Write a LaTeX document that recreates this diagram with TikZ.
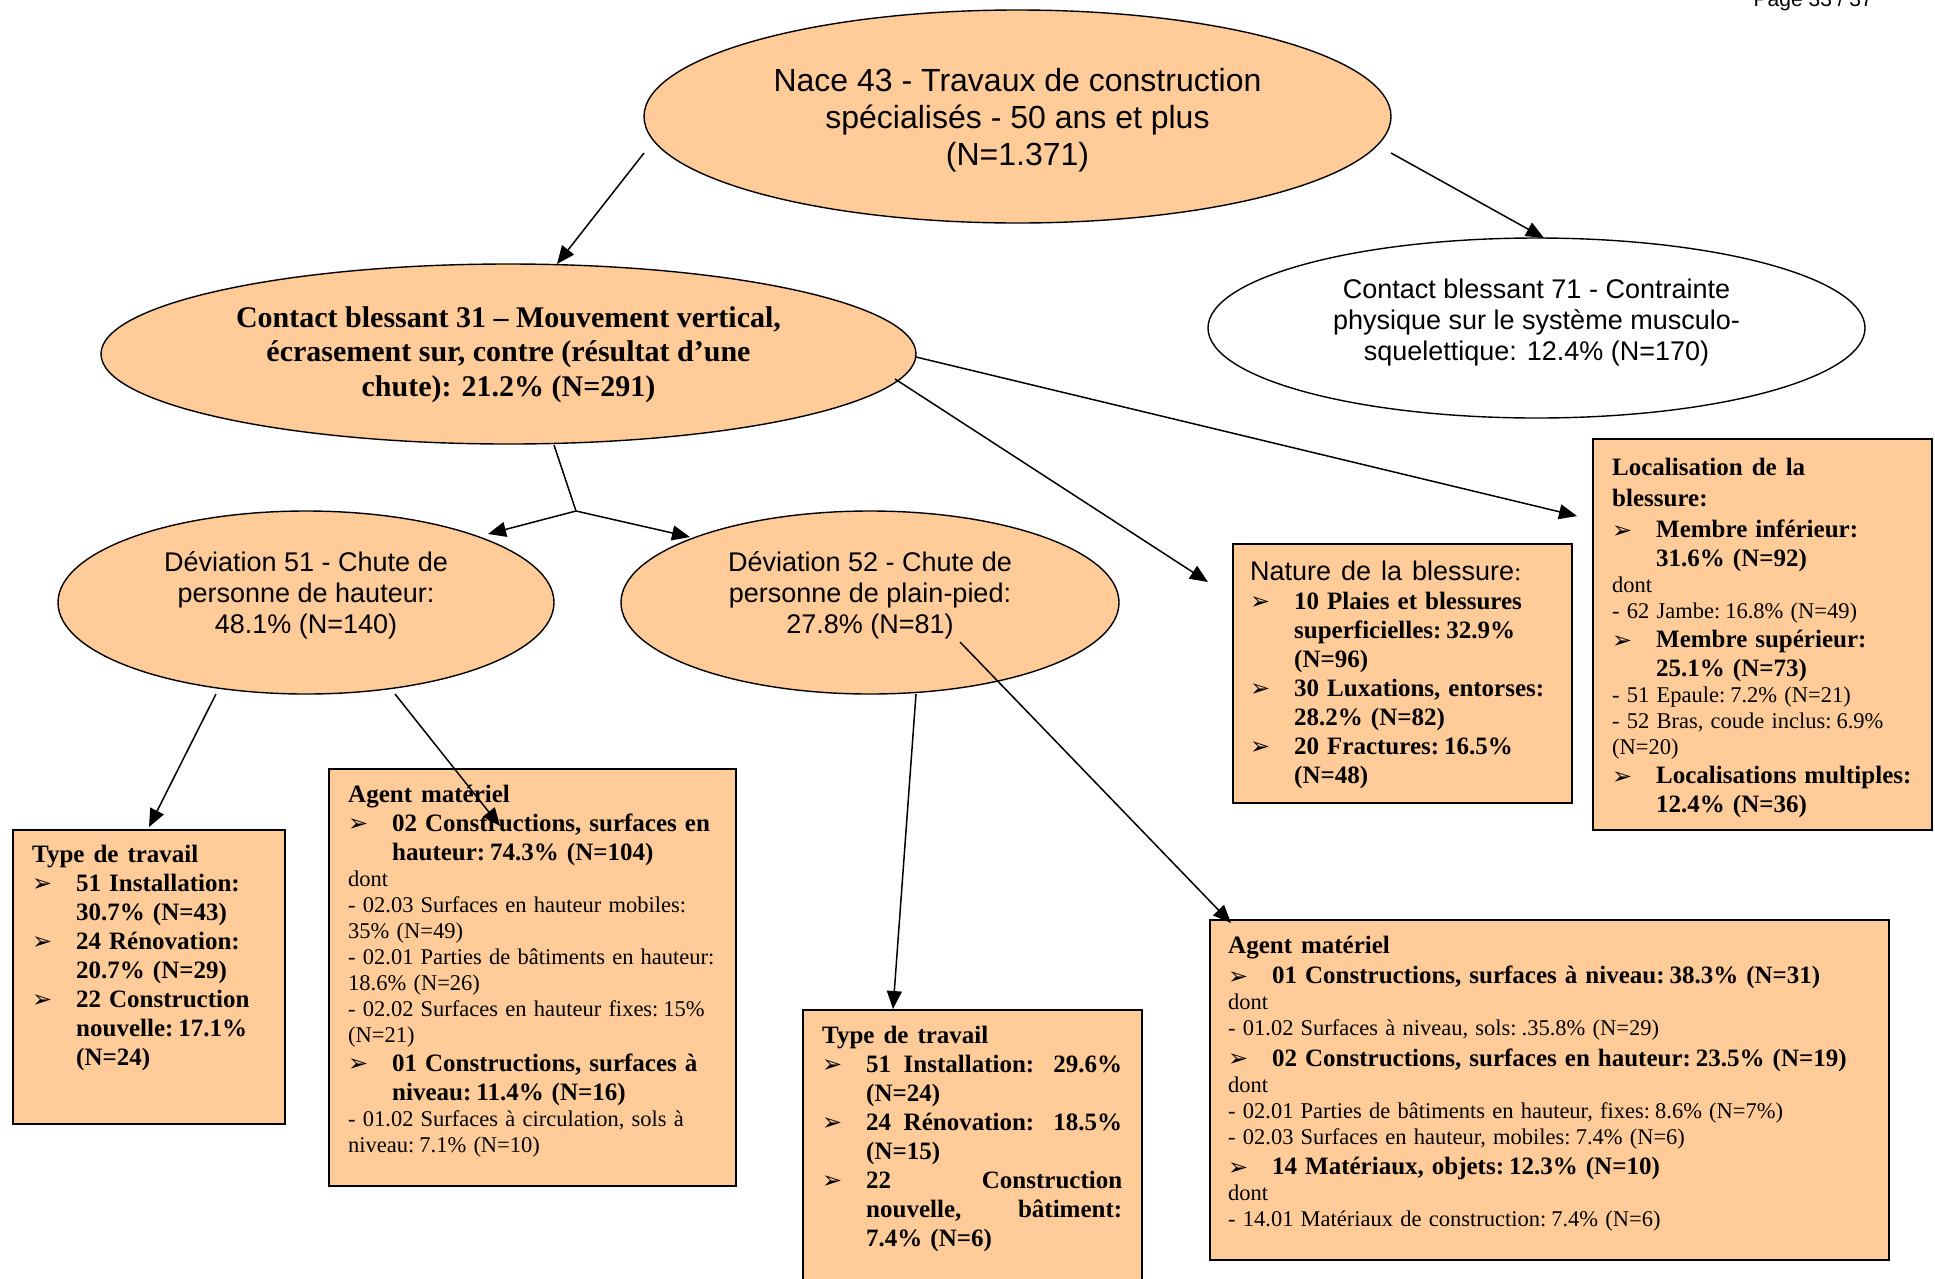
\documentclass[tikz,border=0pt]{standalone}
\usepackage{fontspec}
\setmainfont{Liberation Serif}
\newfontfamily\arialf{Liberation Sans}
\newfontfamily\dejavuf{DejaVu Sans}
\usetikzlibrary{arrows.meta,calc,shapes.geometric}
\definecolor{peach}{RGB}{255,204,153}
\newlength\bskip \setlength\bskip{29pt}
\newlength\tskip \setlength\tskip{29pt}
\newcommand\bul{{\dejavuf\fontsize{24}{24}\selectfont ➢}}
\newcommand\bitem[1]{\par{\bfseries\fontsize{25}{\bskip}\selectfont\spaceskip=0.32em plus 0.3em minus 0.05em\noindent\hangindent=44pt\hangafter=1\relax\makebox[44pt][l]{\raisebox{-0.5pt}{\bul}}#1\par}}
\newcommand\rline[1]{\par{\fontsize{22.5}{26}\selectfont\spaceskip=0.32em plus 0.3em minus 0.05em\noindent #1\par}}
\newcommand\btitle[1]{\par{\bfseries\fontsize{25}{\tskip}\selectfont\spaceskip=0.36em plus 0.3em minus 0.05em\noindent\rule{0pt}{22pt}#1\par}}
\newcommand\ntitle[1]{\par{\arialf\fontsize{27}{31}\selectfont\spaceskip=0.37em plus 0.2em minus 0.05em\noindent\rule{0pt}{22pt}#1\par}}
\begin{document}
\begin{tikzpicture}[x=1pt,y=-1pt,
  ell/.style={ellipse, draw=black, line width=1.4pt, fill=peach, inner sep=0pt},
  etxt/.style={align=center, inner sep=0pt},
  boxs/.style={rectangle, draw=black, line width=1.8pt, fill=peach, anchor=north west, inner sep=0pt},
  txt/.style={anchor=north west, inner sep=0pt},
  arr/.style={-{Triangle[length=18pt,width=15pt]}, line width=1.5pt},
  lin/.style={line width=1.5pt}]

\useasboundingbox (0,0) rectangle (1935,1278);
\fill[white] (0,0) rectangle (1935,1278);

\node[anchor=base east, inner sep=0pt, font=\arialf\fontsize{21}{25}\selectfont] (pg) at (1873,6) {Page 33 / 37};

% ellipses
\node[ell, minimum width=747pt, minimum height=213pt] (nace) at (1017.5,116.5) {};
\node[etxt, font=\arialf\fontsize{32}{37}\selectfont] (nacet) at (1017.5,120.5) {Nace 43 - Travaux de construction\\spécialisés - 50 ans et plus\\(N=1.371)};

\node[ell, minimum width=815pt, minimum height=180pt] (c31) at (508.5,354) {};
\node[etxt, font=\bfseries\fontsize{30}{34.5}\selectfont] (c31t) at (508.5,354.5) {Contact blessant 31 – Mouvement vertical,\\écrasement sur, contre (résultat d'une\\chute): 21.2\% (N=291)};

\node[ell, fill=white, minimum width=657pt, minimum height=180pt] (c71) at (1536.5,328) {};
\node[etxt, font=\arialf\fontsize{27}{31}\selectfont] (c71t) at (1536.5,322.5) {Contact blessant 71 - Contrainte\\physique sur le système musculo-\\squelettique: 12.4\% (N=170)};

\node[ell, minimum width=496pt, minimum height=183pt] (d51) at (306,602.5) {};
\node[etxt, font=\arialf\fontsize{27}{31}\selectfont] (d51t) at (306,595.5) {Déviation 51 - Chute de\\personne de hauteur:\\48.1\% (N=140)};

\node[ell, minimum width=498pt, minimum height=183pt] (d52) at (870,602.5) {};
\node[etxt, font=\arialf\fontsize{27}{31}\selectfont] (d52t) at (870,595.5) {Déviation 52 - Chute de\\personne de plain-pied:\\27.8\% (N=81)};

% boxes
\node[boxs, minimum width=272pt, minimum height=294pt] (tt1) at (12,829) {};
\node[boxs, minimum width=407pt, minimum height=417pt] (am1) at (328,768) {};
\node[boxs, minimum width=339pt, minimum height=290pt] (tt2) at (802,1009) {};
\node[boxs, minimum width=679pt, minimum height=340pt] (am2) at (1209,919) {};
\node[boxs, minimum width=339pt, minimum height=259pt] (nat) at (1232,543) {};
\node[boxs, minimum width=339pt, minimum height=391pt] (loc) at (1592,438) {};

% box texts
\node[txt, text width=248pt] (tt1t) at (32,833) {\btitle{Type de travail}%
\bitem{51 Installation:\newline 30.7\% (N=43)}%
\bitem{24 Rénovation:\newline 20.7\% (N=29)}%
\bitem{22 Construction\newline nouvelle: 17.1\%\newline (N=24)}};

\node[txt, text width=384pt] (am1t) at (348,773) {\btitle{Agent matériel}%
\bitem{02 Constructions, surfaces en\newline hauteur: 74.3\% (N=104)}%
\rline{dont}%
\rline{- 02.03 Surfaces en hauteur mobiles:\newline 35\% (N=49)}%
\rline{- 02.01 Parties de bâtiments en hauteur:\newline 18.6\% (N=26)}%
\rline{- 02.02 Surfaces en hauteur fixes: 15\%\newline (N=21)}%
\bitem{01 Constructions, surfaces à\newline niveau: 11.4\% (N=16)}%
\rline{- 01.02 Surfaces à circulation, sols à\newline niveau: 7.1\% (N=10)}};

\node[txt, text width=300pt, align=justify] (tt2t) at (822,1014) {\btitle{Type de travail}%
\bitem{51 Installation: 29.6\%\linebreak (N=24)}%
\bitem{24 Rénovation: 18.5\%\linebreak (N=15)}%
\bitem{22 Construction\linebreak nouvelle, bâtiment:\linebreak 7.4\% (N=6)}};

\node[txt, text width=655pt] (am2t) at (1228,924) {\setlength\bskip{30.5pt}\btitle{Agent matériel}%
\bitem{01 Constructions, surfaces à niveau: 38.3\% (N=31)}%
\rline{dont}%
\rline{- 01.02 Surfaces à niveau, sols: .35.8\% (N=29)}%
\bitem{02 Constructions, surfaces en hauteur: 23.5\% (N=19)}%
\rline{dont}%
\rline{- 02.01 Parties de bâtiments en hauteur, fixes: 8.6\% (N=7\%)}%
\rline{- 02.03 Surfaces en hauteur, mobiles: 7.4\% (N=6)}%
\bitem{14 Matériaux, objets: 12.3\% (N=10)}%
\rline{dont}%
\rline{- 14.01 Matériaux de construction: 7.4\% (N=6)}};

\node[txt, text width=318pt] (natt) at (1250,549) {\ntitle{Nature de la blessure{\rmfamily\fontsize{25}{29}\selectfont:}}%
\bitem{10 Plaies et blessures\newline superficielles: 32.9\%\newline (N=96)}%
\bitem{30 Luxations, entorses:\newline 28.2\% (N=82)}%
\bitem{20 Fractures: 16.5\%\newline (N=48)}};

\node[txt, text width=316pt] (loct) at (1612,444.5) {\setlength\tskip{31pt}\btitle{Localisation de la\newline blessure:}\vspace{2pt}%
\bitem{Membre inférieur:\newline 31.6\% (N=92)}%
\rline{dont}%
\rline{- 62 Jambe: 16.8\% (N=49)}%
\bitem{Membre supérieur:\newline 25.1\% (N=73)}%
\rline{- 51 Epaule: 7.2\% (N=21)}%
\rline{- 52 Bras, coude inclus: 6.9\%\newline (N=20)}%
\bitem{Localisations multiples:\newline 12.4\% (N=36)}};

% connectors
\coordinate (j) at ($(c31.center)+(67.5,157)$);
\draw[arr] ($(nace.center)+(-373.5,36.5)$) -- ($(c31.center)+(48.5,-90)$);
\draw[arr] ($(nace.center)+(373.5,36.5)$) -- ($(c71.center)+(7.5,-90)$);
\draw[lin] ($(c31.center)+(45.5,91)$) -- (j);
\draw[arr] (j) -- ($(d51.center)+(182,-68.5)$);
\draw[arr] (j) -- ($(d52.center)+(-180,-65.5)$);
\draw[arr] ($(c31.center)+(407.5,3)$) -- ($(loc.north west)+(-15,78)$);
\draw[arr] ($(c31.center)+(386.5,25)$) -- ($(nat.north west)+(-24,39)$);
\draw[arr] ($(d51.center)+(-90,91.5)$) -- ($(tt1.north west)+(137,-2)$);
\draw[arr] ($(d51.center)+(89,91.5)$) -- ($(am1.north west)+(172,58)$);
\draw[arr] ($(d52.center)+(46,91.5)$) -- ($(tt2.north west)+(91,0)$);
\draw[arr] ($(d52.center)+(90,39.5)$) -- ($(am2.north west)+(22,4)$);
\end{tikzpicture}
\end{document}
